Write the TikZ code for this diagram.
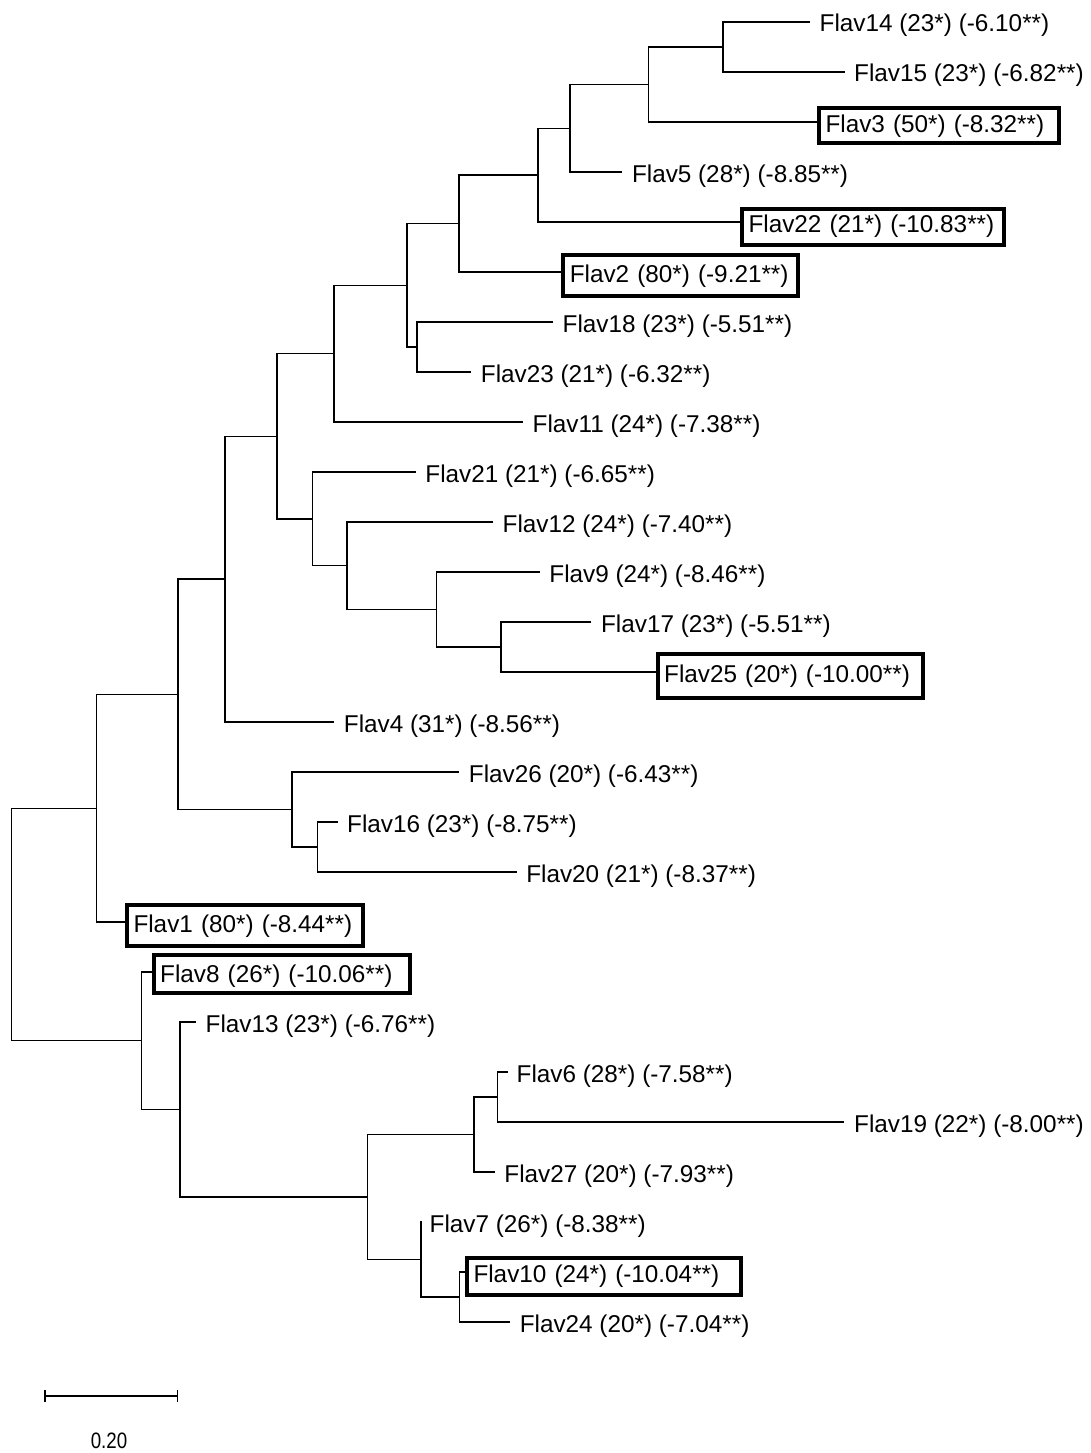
\documentclass[tikz,border=0pt]{standalone}
\usepackage{fontspec}
\setmainfont{Liberation Sans}
\begin{document}
\begin{tikzpicture}[x=1pt,y=-1pt,
  branch/.style={line width=1.3pt, line join=miter},
  leaf/.style={anchor=base west, inner sep=0pt, font=\fontsize{24.3}{29}\selectfont},
  boxed/.style={anchor=base west, draw, line width=4pt, outer sep=0pt, inner xsep=6.5pt, inner ysep=0pt, align=left, font=\fontsize{24.3}{29}\selectfont},
  scalelabel/.style={inner sep=0pt, font=\fontsize{22.3}{26}\selectfont}]
\useasboundingbox (0,0) rectangle (1090,1453);
% internal nodes
\coordinate (root) at (11.5,924.5);
\coordinate (A) at (96.5,808.2);
\coordinate (C) at (178,694.3);
\coordinate (D) at (225,579.1);
\coordinate (F) at (277,436.3);
\coordinate (G) at (334,353.6);
\coordinate (I) at (407,285.3);
\coordinate (J) at (459,223.6);
\coordinate (L) at (538,175.1);
\coordinate (M) at (570,128.25);
\coordinate (N) at (648.5,84.5);
\coordinate (O) at (723,47);
\coordinate (K) at (417,347);
\coordinate (H) at (312.5,518.9);
\coordinate (P) at (347,565.75);
\coordinate (Q) at (436.5,609.5);
\coordinate (R) at (501,647);
\coordinate (E) at (292,809.5);
\coordinate (S) at (317.3,847);
\coordinate (B) at (141.5,1040.75);
\coordinate (T) at (180,1109.5);
\coordinate (U) at (367.5,1197);
\coordinate (V) at (474,1134.5);
\coordinate (X) at (497.5,1097);
\coordinate (W) at (421,1259.5);
\coordinate (Y) at (459.5,1297);
% leaf ends and labels
\coordinate (e14) at (810,22);    \node[leaf] (n14) at (819.5,32) {Flav14 (23*) (-6.10**)};
\coordinate (e15) at (844.5,72);  \node[leaf] (n15) at (854,82) {Flav15 (23*) (-6.82**)};
\coordinate (e3) at (817,122);    \node[boxed, text width=226.5pt, text height=24pt, text depth=11.3pt] (n3) at (819,132) {Flav3 (50*) (-8.32**)};
\coordinate (e5) at (622.3,172);  \node[leaf] (n5) at (631.8,182) {Flav5 (28*) (-8.85**)};
\coordinate (e22) at (740,222);   \node[boxed, text width=248.5pt, text height=23.3pt, text depth=13.3pt] (n22) at (742,232) {Flav22 (21*) (-10.83**)};
\coordinate (e2) at (561.3,272);  \node[boxed, text width=222pt, text height=27.3pt, text depth=14pt] (n2) at (563.3,282) {Flav2 (80*) (-9.21**)};
\coordinate (e18) at (553,322);   \node[leaf] (n18) at (562.5,332) {Flav18 (23*) (-5.51**)};
\coordinate (e23) at (471.2,372); \node[leaf] (n23) at (480.7,382) {Flav23 (21*) (-6.32**)};
\coordinate (e11) at (523,422);   \node[leaf] (n11) at (532.5,432) {Flav11 (24*) (-7.38**)};
\coordinate (e21) at (415.7,472); \node[leaf] (n21) at (425.2,482) {Flav21 (21*) (-6.65**)};
\coordinate (e12) at (493,522);   \node[leaf] (n12) at (502.5,532) {Flav12 (24*) (-7.40**)};
\coordinate (e9) at (539.7,572);  \node[leaf] (n9) at (549.2,582) {Flav9 (24*) (-8.46**)};
\coordinate (e17) at (591.4,622); \node[leaf] (n17) at (600.9,632) {Flav17 (23*) (-5.51**)};
\coordinate (e25) at (655.7,672); \node[boxed, text width=252.3pt, text height=28pt, text depth=15.7pt] (n25) at (657.7,682) {Flav25 (20*) (-10.00**)};
\coordinate (e4) at (334.2,722);  \node[leaf] (n4) at (343.7,732) {Flav4 (31*) (-8.56**)};
\coordinate (e26) at (459.2,772); \node[leaf] (n26) at (468.7,782) {Flav26 (20*) (-6.43**)};
\coordinate (e16) at (337.5,822); \node[leaf] (n16) at (347,832) {Flav16 (23*) (-8.75**)};
\coordinate (e20) at (516.6,872); \node[leaf] (n20) at (526.1,882) {Flav20 (21*) (-8.37**)};
\coordinate (e1) at (125,922);    \node[boxed, text width=223pt, text height=26.7pt, text depth=13.7pt] (n1) at (127,932) {Flav1 (80*) (-8.44**)};
\coordinate (e8) at (151.7,972);  \node[boxed, text width=243pt, text height=26.7pt, text depth=11pt] (n8) at (153.7,982) {Flav8 (26*) (-10.06**)};
\coordinate (e13) at (196,1022);  \node[leaf] (n13) at (205.5,1032) {Flav13 (23*) (-6.76**)};
\coordinate (e6) at (507.7,1072); \node[leaf] (n6) at (516.5,1082) {Flav6 (28*) (-7.58**)};
\coordinate (e19) at (843.5,1122);\node[leaf] (n19) at (854,1132) {Flav19 (22*) (-8.00**)};
\coordinate (e27) at (494.9,1172);\node[leaf] (n27) at (504.2,1182) {Flav27 (20*) (-7.93**)};
\coordinate (e7) at (422,1222);   \node[leaf] (n7) at (429.5,1232) {Flav7 (26*) (-8.38**)};
\coordinate (e10) at (465,1272);  \node[boxed, text width=261.3pt, text height=24pt, text depth=12.7pt] (n10) at (467,1282) {Flav10 (24*) (-10.04**)};
\coordinate (e24) at (510.2,1322);\node[leaf] (n24) at (519.6,1332) {Flav24 (20*) (-7.04**)};
% branches
\draw[branch] (e14) -| (O) |- (e15);
\draw[branch] (O) -| (N) |- (e3);
\draw[branch] (N) -| (M) |- (e5);
\draw[branch] (M) -| (L) |- (e22);
\draw[branch] (L) -| (J) |- (e2);
\draw[branch] (e18) -| (K) |- (e23);
\draw[branch] (J) -| (I) |- (K);
\draw[branch] (I) -| (G) |- (e11);
\draw[branch] (e17) -| (R) |- (e25);
\draw[branch] (e9) -| (Q) |- (R);
\draw[branch] (e12) -| (P) |- (Q);
\draw[branch] (e21) -| (H) |- (P);
\draw[branch] (G) -| (F) |- (H);
\draw[branch] (F) -| (D) |- (e4);
\draw[branch] (e16) -| (S) |- (e20);
\draw[branch] (e26) -| (E) |- (S);
\draw[branch] (D) -| (C) |- (E);
\draw[branch] (C) -| (A) |- (e1);
\draw[branch] (e6) -| (X) |- (e19);
\draw[branch] (X) -| (V) |- (e27);
\draw[branch] (e10) -| (Y) |- (e24);
\draw[branch] (e7) -| (W) |- (Y);
\draw[branch] (V) -| (U) |- (W);
\draw[branch] (e13) -| (T) |- (U);
\draw[branch] (e8) -| (B) |- (T);
\draw[branch] (A) -| (root) |- (B);
% scale bar
\coordinate (sb1) at (45,1396);
\coordinate (sb2) at (177.3,1396);
\draw[branch] (sb1) -- (sb2);
\draw[branch] ([yshift=6pt]sb1) -- ([yshift=-6pt]sb1);
\draw[branch] ([yshift=6pt]sb2) -- ([yshift=-6pt]sb2);
\node[scalelabel] (sbl) at (109,1441) {\scalebox{0.84}[1]{0.20}};
\end{tikzpicture}
\end{document}
